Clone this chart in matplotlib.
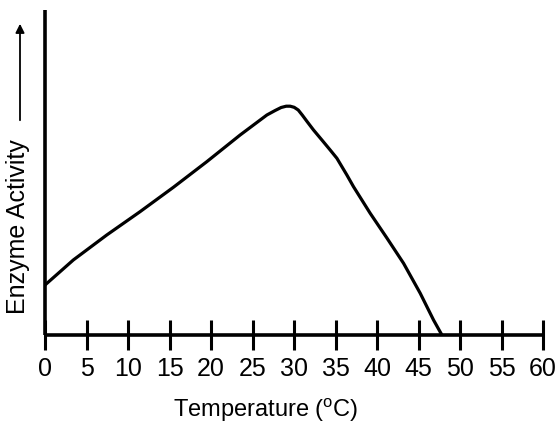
import matplotlib
matplotlib.use("Agg")
import matplotlib.pyplot as plt
from matplotlib.patches import FancyArrowPatch

# temperature (C) and enzyme activity (arbitrary units, 0-100)
temperature = [0, 1.57, 3.41, 7.44, 11.45, 15.47, 19.49, 23.51, 26.73, 27.73, 28.45,
               29.06, 29.54, 30.02, 30.51, 30.99, 31.59, 32.35, 33.36, 34.36, 35.17,
               36.37, 37.17, 39.18, 41.19, 43.2, 45.21, 46.81, 47.82]
activity = [15.38, 18.92, 23.08, 30.77, 37.94, 45.45, 53.32, 61.54, 67.69, 69.08, 70.0,
            70.4, 70.4, 70.06, 69.23, 67.69, 65.63, 63.08, 60.0, 56.92, 54.37,
            49.23, 45.63, 37.45, 29.85, 22.06, 12.83, 4.62, 0]
x_ticks = list(range(0, 61, 5))

plt.rcParams['font.family'] = ['Liberation Sans', 'DejaVu Sans']

W, H = 558, 430
fig = plt.figure(figsize=(W / 100, H / 100), dpi=100)
fig.patch.set_facecolor('white')

# axes box in pixels: y-axis at x=45, x-axis at y=335, top at y=10, 60 at x=543
ax = fig.add_axes([45 / W, (H - 335) / H, (543 - 45) / W, (335 - 10) / H])

ax.plot(temperature, activity, color='black', lw=2.3,
        solid_joinstyle='round', solid_capstyle='round')

ax.set_xlim(0, 60)
ax.set_ylim(0, 100)

for side in ['top', 'right']:
    ax.spines[side].set_visible(False)
for side in ['left', 'bottom']:
    ax.spines[side].set_linewidth(2.6)
    ax.spines[side].set_capstyle('butt')

ax.set_xticks(x_ticks)
ax.set_xticklabels([str(t) for t in x_ticks])
ax.tick_params(axis='x', direction='inout', length=22, width=2.2,
               labelsize=18, pad=4.5, colors='black')
ax.set_yticks([])

# axis titles
fig.text(266 / W, 1 - 417 / H, r'Temperature ($^\mathregular{o}$C)',
         ha='center', va='baseline', fontsize=17)
fig.text(18.4 / W, 1 - 226.5 / H, 'Enzyme Activity', rotation=90,
         ha='center', va='center', fontsize=18)

# arrow above the y title
arrow = FancyArrowPatch((20 / W, 1 - 123 / H), (20 / W, 1 - 21 / H),
                        transform=fig.transFigure, arrowstyle='-|>',
                        mutation_scale=13, lw=1.3, color='black')
fig.add_artist(arrow)

fig.savefig('out.png', dpi=100, facecolor='white')
